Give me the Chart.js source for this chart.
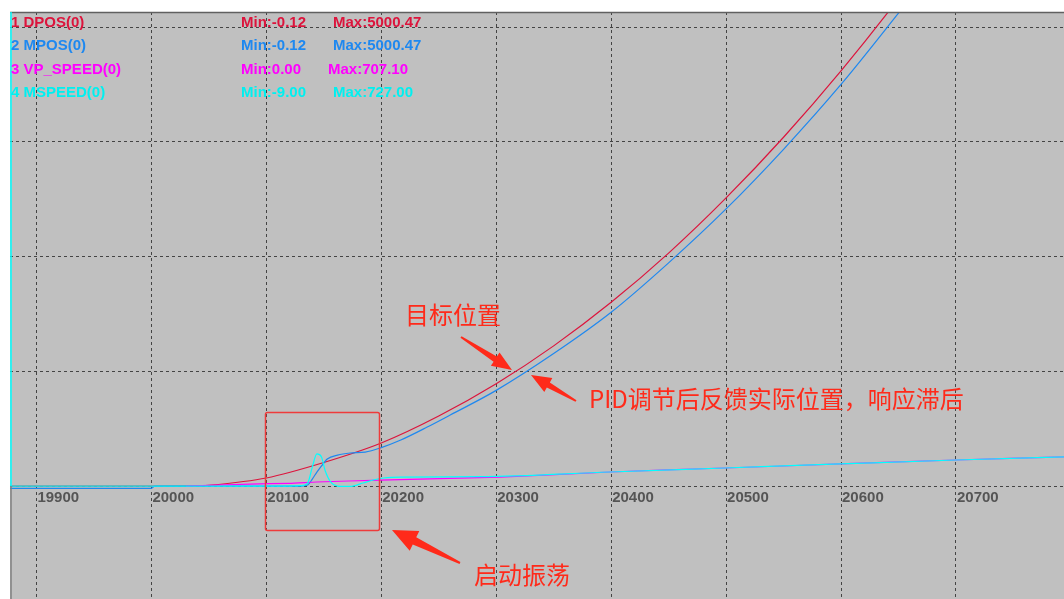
<!DOCTYPE html>
<html>
<head>
<meta charset="utf-8">
<script src="https://cdn.jsdelivr.net/npm/chart.js@4/dist/chart.umd.min.js"></script>
<style>
  html, body { margin: 0; padding: 0; background: #fff; }
  .wrap { width: 1064px; height: 599px; position: relative; }
</style>
</head>
<body>
<div class="wrap"><canvas id="scope"></canvas></div>
<script>
// x axis ticks (sample index) and horizontal grid levels
const xTicks = [19900, 20000, 20100, 20200, 20300, 20400, 20500, 20600, 20700];
const yGrid = [0, 1000, 2000, 3000, 4000];

// 1 DPOS(0) - target position
const dposX = [19877, 20030, 20050, 20100, 20150, 20200, 20250, 20300, 20350, 20400, 20450, 20500, 20550, 20600, 20650, 20700, 20720, 20794];
const dposY = [0, 0, 5, 70, 205, 375, 610, 891, 1222, 1602, 2031, 2512, 3041, 3620, 4249, 4926, 5000.47, 5000.47];

// 2 MPOS(0) - feedback position
const mposX = [19877, 20000, 20003, 20130, 20136, 20140, 20144, 20150, 20153, 20162, 20173, 20186, 20200, 20217, 20240, 20260, 20300, 20350, 20400, 20450, 20500, 20550, 20600, 20650, 20700, 20730, 20794];
const mposY = [-20, -20, 0, 0, 9, 60, 122, 200, 235, 270, 288, 296, 335, 401, 514, 619, 834, 1155, 1515, 1946, 2416, 2936, 3501, 4123, 4758, 5000.47, 5000.47];

// 3 VP_SPEED(0) - planned speed
const vpX = [20030, 20086, 20120, 20144, 20199, 20303, 20399, 20499, 20599, 20700, 20794];
const vpY = [0, 45, 61, 91, 136, 204, 318, 409, 500, 590, 660];

// 4 MSPEED(0) - measured speed
const msX = [19877, 20120, 20130, 20136, 20140, 20144, 20148, 20151, 20156, 20162, 20173, 20184, 20193, 20202, 20217, 20286, 20399, 20499, 20599, 20700, 20794];
const msY = [0, 0, 10, 68, 430, 727, 660, 363, 91, 0, -9, 68, 136, 182, 204, 211, 318, 409, 500, 590, 660];

const legendRows = [
  { name: "1 DPOS(0)", min: "Min:-0.12", max: "Max:5000.47", color: "#dc143c", maxX: 333 },
  { name: "2 MPOS(0)", min: "Min:-0.12", max: "Max:5000.47", color: "#1e88f0", maxX: 333 },
  { name: "3 VP_SPEED(0)", min: "Min:0.00", max: "Max:707.10", color: "#ff00ff", maxX: 328 },
  { name: "4 MSPEED(0)", min: "Min:-9.00", max: "Max:727.00", color: "#00f0f0", maxX: 333 },
];

const pts = (xs, ys) => xs.map((x, i) => ({ x: x, y: ys[i] }));
const fixedTicks = (vals) => (scale) => { scale.ticks = vals.map((v) => ({ value: v })); };

const RED = "#ff2a1a";

function arrow(ctx, x1, y1, x2, y2, headLen, headW, baseW) {
  const dx = x2 - x1, dy = y2 - y1;
  const len = Math.hypot(dx, dy);
  const ux = dx / len, uy = dy / len;
  const nx = -uy, ny = ux;
  const bx = x2 - ux * headLen, by = y2 - uy * headLen;
  ctx.beginPath();
  ctx.moveTo(x1 + nx * 1, y1 + ny * 1);
  ctx.lineTo(bx + nx * baseW, by + ny * baseW);
  ctx.lineTo(bx + nx * headW, by + ny * headW);
  ctx.lineTo(x2, y2);
  ctx.lineTo(bx - nx * headW, by - ny * headW);
  ctx.lineTo(bx - nx * baseW, by - ny * baseW);
  ctx.lineTo(x1 - nx * 1, y1 - ny * 1);
  ctx.closePath();
  ctx.fill();
}

const scopePlugin = {
  id: "scope",
  beforeDraw(chart) {
    const { ctx, chartArea: a } = chart;
    ctx.save();
    ctx.fillStyle = "#c0c0c0";
    ctx.fillRect(a.left, a.top, a.right - a.left, a.bottom - a.top);
    ctx.restore();
  },
  afterDatasetsDraw(chart) {
    const { ctx, chartArea: a, scales } = chart;
    const y0 = scales.y.getPixelForValue(0);
    ctx.save();
    // frame
    ctx.lineWidth = 1.5;
    ctx.strokeStyle = "#606060";
    ctx.beginPath();
    ctx.moveTo(a.left, a.top + 0.5);
    ctx.lineTo(a.right, a.top + 0.5);
    ctx.stroke();
    ctx.beginPath();
    ctx.moveTo(a.left + 1, y0);
    ctx.lineTo(a.left + 1, a.bottom);
    ctx.strokeStyle = "#808080";
    ctx.stroke();
    ctx.beginPath();
    ctx.moveTo(a.left + 1, a.top);
    ctx.lineTo(a.left + 1, y0);
    ctx.strokeStyle = "#00ffff";
    ctx.stroke();

    // x tick labels inside the plot
    ctx.font = "bold 15px 'Liberation Sans'";
    ctx.fillStyle = "#555555";
    ctx.textBaseline = "alphabetic";
    ctx.textAlign = "left";
    xTicks.forEach((v) => {
      ctx.fillText(String(v), scales.x.getPixelForValue(v) + 1, y0 + 16);
    });

    // channel legend
    legendRows.forEach((r, i) => {
      const by = 27 + i * 23.4;
      ctx.fillStyle = r.color;
      ctx.fillText(r.name, 11, by);
      ctx.fillText(r.min, 241, by);
      ctx.fillText(r.max, r.maxX, by);
    });

    // annotations
    ctx.strokeStyle = "#ee3b3b";
    ctx.lineWidth = 1.5;
    ctx.beginPath();
    ctx.roundRect(265.5, 412.5, 114, 118, 2);
    ctx.stroke();

    ctx.fillStyle = RED;
    arrow(ctx, 461, 337, 512, 370, 20, 8, 3);
    arrow(ctx, 576, 401, 531, 375, 20, 8, 3);
    arrow(ctx, 460, 563, 392, 530, 25, 11, 4);

    ctx.font = "24px 'Noto Sans CJK SC'";
    ctx.textBaseline = "middle";
    ctx.fillText("目标位置", 405, 315);
    ctx.fillText("PID调节后反馈实际位置，响应滞后", 589, 399);
    ctx.fillText("启动振荡", 474, 575);
    ctx.restore();
  },
};

new Chart(document.getElementById("scope"), {
  type: "line",
  data: {
    datasets: [
      { label: "DPOS", data: pts(dposX, dposY), borderColor: "#dc143c", order: 4, tension: 0.3 },
      { label: "MPOS", data: pts(mposX, mposY), borderColor: "#1e88f0", order: 3, cubicInterpolationMode: "monotone" },
      { label: "VP_SPEED", data: pts(vpX, vpY), borderColor: "#ff00ff", order: 2, yAxisID: "y2", tension: 0.2 },
      { label: "MSPEED", data: pts(msX, msY), borderColor: "#00ffff", order: 1, yAxisID: "y2", cubicInterpolationMode: "monotone" },
    ],
  },
  options: {
    responsive: true,
    maintainAspectRatio: false,
    animation: false,
    events: [],
    layout: { padding: { left: 10, top: 12, right: 0, bottom: 0 } },
    elements: {
      point: { radius: 0 },
      line: { borderWidth: 1.2 },
    },
    scales: {
      x: {
        type: "linear",
        min: 19877,
        max: 20794,
        afterBuildTicks: fixedTicks(xTicks),
        ticks: { display: false },
        grid: { color: "#444", drawTicks: false },
        border: { display: false, dash: [3, 3] },
      },
      y: {
        min: -985,
        max: 4133,
        afterBuildTicks: fixedTicks(yGrid),
        ticks: { display: false },
        grid: { color: "#444", drawTicks: false },
        border: { display: false, dash: [3, 3] },
      },
      y2: {
        display: false,
        min: -2561,
        max: 10746,
      },
    },
    plugins: {
      legend: { display: false },
      tooltip: { enabled: false },
    },
  },
  plugins: [scopePlugin],
});
</script>
</body>
</html>
